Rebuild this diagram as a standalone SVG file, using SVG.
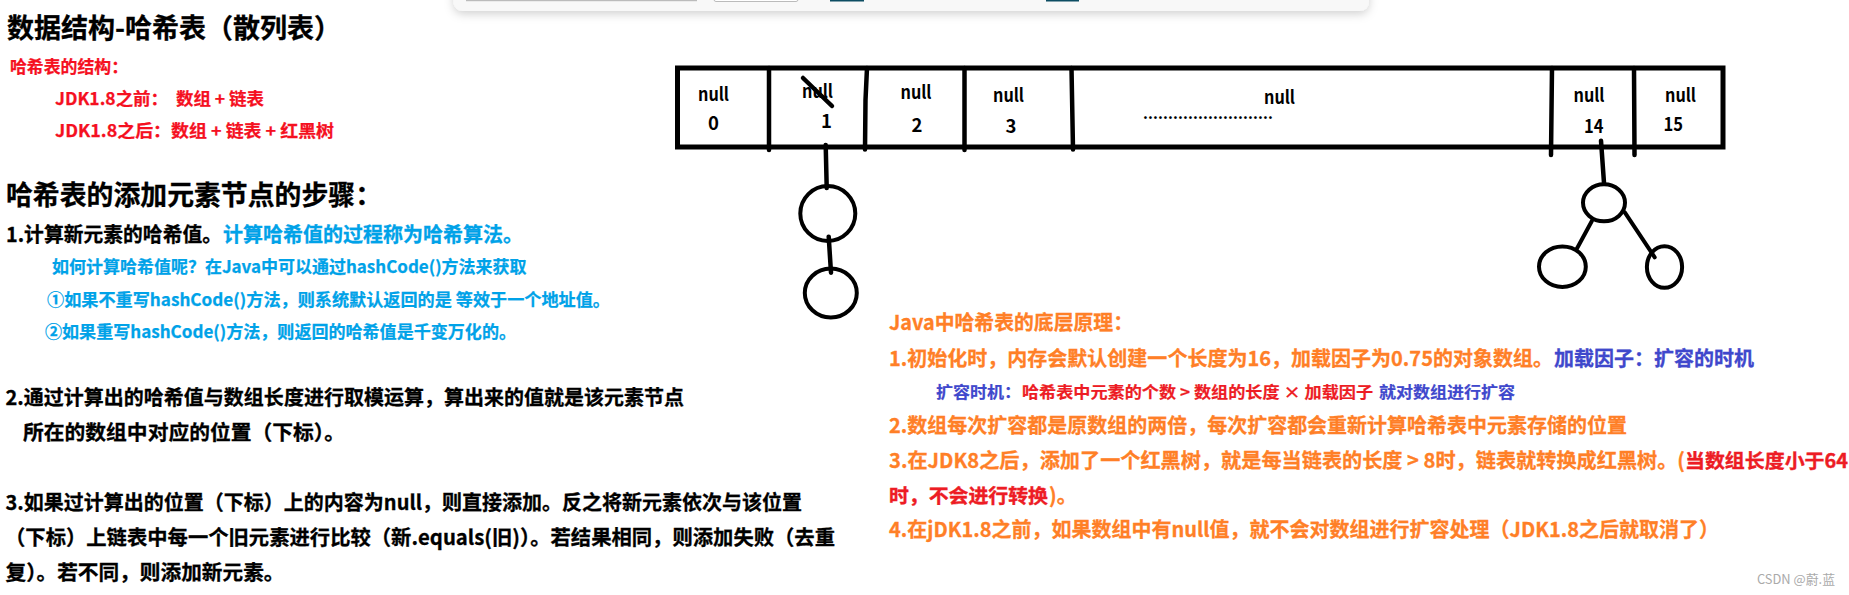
<svg xmlns="http://www.w3.org/2000/svg" width="1849" height="595" viewBox="0 0 1849 595">
<style>
text{font-family:"Noto Sans CJK SC","Noto Sans",sans-serif;font-weight:700;white-space:pre}
.h{font-size:27px;fill:#000;stroke:#000;stroke-width:.3}
.b{font-size:20.500px;fill:#000;stroke:#000;stroke-width:.3}
.r16{font-size:17px;fill:#f5101f;stroke:#f5101f;stroke-width:.25}
.c{font-size:20.500px;fill:#00a2e8;stroke:#00a2e8;stroke-width:.3}
.c16{font-size:17px;fill:#00a2e8;stroke:#00a2e8;stroke-width:.25}
.o{font-size:20.500px;fill:#ff7f27;stroke:#ff7f27;stroke-width:.3}
.i{font-size:20.500px;fill:#3f48cc;stroke:#3f48cc;stroke-width:.3}
.i16{font-size:16px;fill:#3f48cc;stroke:#3f48cc;stroke-width:.2}
.rr{font-size:16px;fill:#ed1c24;stroke:#ed1c24;stroke-width:.2}
.r{font-size:19.500px;fill:#ed1c24;stroke:#ed1c24;stroke-width:.4}
.n{font-size:18.500px;font-weight:700;fill:#000}
.d{font-size:15px;font-weight:700;fill:#000}
.wm{font-size:13px;font-weight:400;fill:#aaa}
.ln{fill:none;stroke:#000;stroke-width:4.5;stroke-linecap:round}
.nd{fill:none;stroke:#000;stroke-width:4}
</style>
<defs><filter id="sh" x="-5%" y="-100%" width="110%" height="400%"><feDropShadow dx="0" dy="3" stdDeviation="5" flood-color="#000" flood-opacity=".18"/></filter></defs>
<rect width="1849" height="595" fill="#fff"/>
<g id="toolbar">
<rect x="453.500" y="-30" width="915.500" height="41" rx="9" fill="#f8f8f8" filter="url(#sh)"/>
<rect x="466" y="0" width="231" height="1.200" fill="#bbb"/>
<rect x="714" y="-3" width="84" height="4.500" rx="2" fill="#fff" stroke="#bbb"/>
<rect x="830" y="0" width="34" height="1.500" fill="#0d4d63"/>
<rect x="1046" y="0" width="33" height="1.500" fill="#0d4d63"/>
</g>
<g id="notes-left">
<text class="h" x="7" y="37.500" textLength="334" lengthAdjust="spacingAndGlyphs">数据结构-哈希表（散列表）</text>
<text class="r16" x="10" y="73" textLength="118" lengthAdjust="spacingAndGlyphs">哈希表的结构：</text>
<text class="r16" x="55" y="105" textLength="209" lengthAdjust="spacingAndGlyphs">JDK1.8之前：  数组 + 链表</text>
<text class="r16" x="55" y="137" textLength="279" lengthAdjust="spacingAndGlyphs">JDK1.8之后：数组 + 链表 + 红黑树</text>
<text class="h" x="6" y="205" textLength="376" lengthAdjust="spacingAndGlyphs">哈希表的添加元素节点的步骤：</text>
<text class="b" x="6" y="241.500" textLength="216" lengthAdjust="spacingAndGlyphs">1.计算新元素的哈希值。</text>
<text class="c" x="223" y="241.500" textLength="300" lengthAdjust="spacingAndGlyphs">计算哈希值的过程称为哈希算法。</text>
<text class="c16" x="52" y="273" textLength="474.500" lengthAdjust="spacingAndGlyphs">如何计算哈希值呢？在Java中可以通过hashCode()方法来获取</text>
<text class="c16" x="47" y="306" textLength="563" lengthAdjust="spacingAndGlyphs">①如果不重写hashCode()方法，则系统默认返回的是 等效于一个地址值。</text>
<text class="c16" x="45" y="338" textLength="471" lengthAdjust="spacingAndGlyphs">②如果重写hashCode()方法，则返回的哈希值是千变万化的。</text>
<text class="b" x="5.500" y="405" textLength="678.500" lengthAdjust="spacingAndGlyphs">2.通过计算出的哈希值与数组长度进行取模运算，算出来的值就是该元素节点</text>
<text class="b" x="23" y="440" textLength="322" lengthAdjust="spacingAndGlyphs">所在的数组中对应的位置（下标）。</text>
<text class="b" x="5.500" y="510" textLength="796.500" lengthAdjust="spacingAndGlyphs">3.如果过计算出的位置（下标）上的内容为null，则直接添加。反之将新元素依次与该位置</text>
<text class="b" x="5" y="545" textLength="830" lengthAdjust="spacingAndGlyphs">（下标）上链表中每一个旧元素进行比较（新.equals(旧)）。若结果相同，则添加失败（去重</text>
<text class="b" x="5.500" y="580" textLength="279" lengthAdjust="spacingAndGlyphs">复）。若不同，则添加新元素。</text>
</g>
<g id="array">
<rect x="677.500" y="68" width="1045.500" height="79" fill="none" stroke="#000" stroke-width="5"/>
<path class="ln" d="M769 68V150"/>
<path class="ln" d="M867 68L865.500 100L865 149.500"/>
<path class="ln" d="M964.500 68V150"/>
<path class="ln" d="M1071.500 68L1073 149.500"/>
<path class="ln" d="M1552 68L1551 155"/>
<path class="ln" d="M1634 68L1634.500 155"/>
</g>
<g id="cell-0"><text class="n" x="698" y="100.500" textLength="31" lengthAdjust="spacingAndGlyphs">null</text><text class="n" x="708" y="130">0</text></g>
<g id="cell-1"><text class="n" x="802" y="98" textLength="31" lengthAdjust="spacingAndGlyphs">null</text><text class="n" x="821" y="128">1</text><path class="ln" d="M803 78L832 106"/></g>
<g id="cell-2"><text class="n" x="900.500" y="99" textLength="31" lengthAdjust="spacingAndGlyphs">null</text><text class="n" x="911.500" y="132">2</text></g>
<g id="cell-3"><text class="n" x="993" y="102" textLength="31" lengthAdjust="spacingAndGlyphs">null</text><text class="n" x="1005.500" y="133">3</text></g>
<g id="cell-mid"><text class="n" x="1264" y="104" textLength="31" lengthAdjust="spacingAndGlyphs">null</text><text class="d" x="1143" y="119" textLength="130" lengthAdjust="spacing">..........................</text></g>
<g id="cell-14"><text class="n" x="1573.500" y="101.500" textLength="31" lengthAdjust="spacingAndGlyphs">null</text><text class="n" x="1584" y="132.500" textLength="19.500" lengthAdjust="spacingAndGlyphs">14</text></g>
<g id="cell-15"><text class="n" x="1665" y="101.500" textLength="31" lengthAdjust="spacingAndGlyphs">null</text><text class="n" x="1663.500" y="131" textLength="19.500" lengthAdjust="spacingAndGlyphs">15</text></g>
<g id="connectors">
<path class="ln" d="M825.700 145L826.700 188"/>
<path class="ln" d="M828.700 236.700L831 272.700"/>
<path class="ln" d="M1601 140.700L1604 183"/>
<path class="ln" style="stroke-width:4" d="M1592 220.700L1576.700 249"/>
<path class="ln" style="stroke-width:4" d="M1624.800 212.300L1654.700 257.300"/>
</g>
<ellipse id="list-node-1" class="nd" cx="827.800" cy="213.500" rx="27.500" ry="27.500"/>
<ellipse id="list-node-2" class="nd" cx="830.800" cy="293" rx="26" ry="24.500"/>
<ellipse id="tree-root" class="nd" cx="1604" cy="202.800" rx="21" ry="18.500"/>
<ellipse id="tree-left" class="nd" cx="1562.400" cy="266.700" rx="23.400" ry="20.300"/>
<ellipse id="tree-right" class="nd" cx="1664.500" cy="267" rx="17.600" ry="20.800"/>
<g id="notes-right">
<text class="o" x="889" y="330" textLength="244" lengthAdjust="spacingAndGlyphs">Java中哈希表的底层原理：</text>
<text class="o" x="889" y="366" textLength="664" lengthAdjust="spacingAndGlyphs">1.初始化时，内存会默认创建一个长度为16，加载因子为0.75的对象数组。</text>
<text class="i" x="1554" y="366" textLength="200" lengthAdjust="spacingAndGlyphs">加载因子：扩容的时机</text>
<text class="i16" x="936" y="398" textLength="85" lengthAdjust="spacingAndGlyphs">扩容时机：</text>
<text class="rr" x="1022" y="398" textLength="351" lengthAdjust="spacingAndGlyphs">哈希表中元素的个数 &gt; 数组的长度 × 加载因子</text>
<text class="i16" x="1379" y="398" textLength="136" lengthAdjust="spacingAndGlyphs">就对数组进行扩容</text>
<text class="o" x="889" y="433" textLength="738" lengthAdjust="spacingAndGlyphs">2.数组每次扩容都是原数组的两倍，每次扩容都会重新计算哈希表中元素存储的位置</text>
<text class="o" x="889" y="468" textLength="796" lengthAdjust="spacingAndGlyphs">3.在JDK8之后，添加了一个红黑树，就是每当链表的长度 &gt; 8时，链表就转换成红黑树。(</text>
<text class="r" x="1685" y="468" textLength="163" lengthAdjust="spacingAndGlyphs">当数组长度小于64</text>
<text class="r" x="889" y="503" textLength="159" lengthAdjust="spacingAndGlyphs">时，不会进行转换</text>
<text class="o" x="1049" y="503" textLength="28" lengthAdjust="spacingAndGlyphs">)。</text>
<text class="o" x="889" y="537" textLength="830" lengthAdjust="spacingAndGlyphs">4.在jDK1.8之前，如果数组中有null值，就不会对数组进行扩容处理（JDK1.8之后就取消了）</text>
<text class="wm" x="1757" y="584" textLength="78" lengthAdjust="spacingAndGlyphs">CSDN @蔚.蓝</text>
</g>
</svg>
